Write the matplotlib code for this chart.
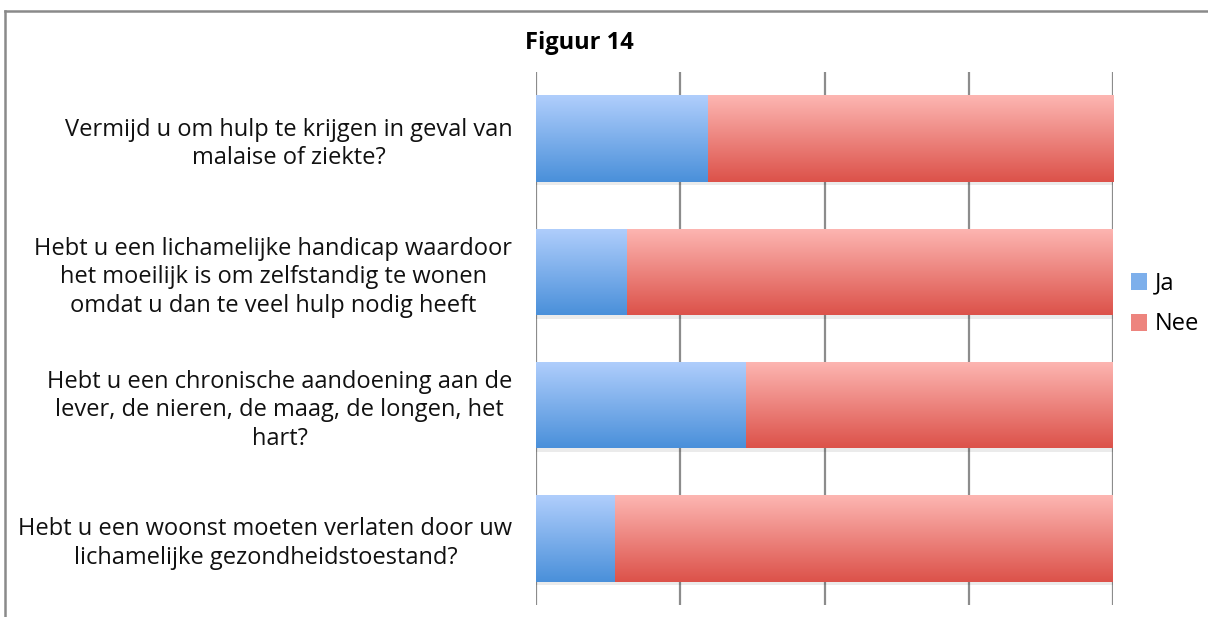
import numpy as np
import matplotlib
matplotlib.use("Agg")
import matplotlib.pyplot as plt
from matplotlib.patches import Patch
from matplotlib.lines import Line2D

categories = [
    "Vermijd u om hulp te krijgen in geval van\nmalaise of ziekte?",
    "Hebt u een lichamelijke handicap waardoor\nhet moeilijk is om zelfstandig te wonen\nomdat u dan te veel hulp nodig heeft",
    "Hebt u een chronische aandoening aan de\nlever, de nieren, de maag, de longen, het\nhart?",
    "Hebt u een woonst moeten verlaten door uw\nlichamelijke gezondheidstoestand?",
]
ja = [29.8, 15.8, 36.4, 13.7]
nee = [70.2, 84.2, 63.6, 86.3]
series = ["Ja", "Nee"]
title = "Figuur 14"

blue_top, blue_bot = np.array([176, 206, 252]) / 255, np.array([74, 144, 218]) / 255
red_top, red_bot = np.array([253, 182, 178]) / 255, np.array([220, 82, 74]) / 255

plt.rcParams['font.family'] = ['Open Sans', 'DejaVu Sans']

fig = plt.figure(figsize=(12.08, 6.17), dpi=100)
W, H = 1208, 617
ax = fig.add_axes([536 / W, 1 - 605 / H, (1113 - 536) / W, (605 - 72) / H])

y = np.arange(len(categories))
h = 0.65

ax.set_xlim(0, 100)
ax.set_ylim(len(categories) - 0.5, -0.5)

# shadows
ax.barh(y + 0.025, ja, height=h, left=0, color='#000000', alpha=0.08, zorder=2, linewidth=0)
ax.barh(y + 0.025, nee, height=h, left=ja, color='#000000', alpha=0.08, zorder=2, linewidth=0)

bars_ja = ax.barh(y, ja, height=h, left=0, color='none', linewidth=0, zorder=3)
bars_nee = ax.barh(y, nee, height=h, left=ja, color='none', linewidth=0, zorder=3)

def grad(top, bot, n=100):
    t = np.linspace(0, 1, n)[:, None]
    arr = top[None, :] * (1 - t) + bot[None, :] * t
    return arr[:, None, :]

for bars, ct, cb in [(bars_ja, blue_top, blue_bot), (bars_nee, red_top, red_bot)]:
    for r in bars:
        x0, yb = r.get_x(), r.get_y()
        w, hh = r.get_width(), r.get_height()
        im = ax.imshow(grad(ct, cb), extent=(x0, x0 + w, yb + hh, yb), origin='upper',
                       aspect='auto', zorder=3.5, interpolation='bilinear')
        im.set_clip_path(r)

ax.set_xlim(0, 100)
ax.set_ylim(len(categories) - 0.5, -0.5)

ax.set_xticks([0, 25, 50, 75, 100])
ax.set_xticklabels([])
ax.tick_params(axis='x', length=0)
ax.grid(axis='x', color='#8c8c8c', linewidth=1.6, zorder=1)
ax.set_axisbelow(True)
ax.set_yticks(y)
ax.set_yticklabels(categories, fontsize=17, multialignment='center', color='#111111',
                   linespacing=1.25)
ax.tick_params(axis='y', length=0, pad=17)
for s in ax.spines.values():
    s.set_visible(False)
ax.set_facecolor('none')

fig.text(579 / W, 1 - 43 / H, title, ha='center', va='center', fontsize=17, fontweight='bold')

handles = [Patch(facecolor=(blue_top + blue_bot) / 2, edgecolor='none'),
           Patch(facecolor=(red_top + red_bot) / 2, edgecolor='none')]
fig.legend(handles, series, loc='center left', bbox_to_anchor=(1119 / W, 1 - 304 / H),
           frameon=False, fontsize=17, handlelength=0.7, handleheight=0.7,
           handletextpad=0.3, labelspacing=0.72, borderpad=0)

# chart border (top and left visible)
fig.add_artist(Line2D([5 / W, 1], [1 - 11 / H, 1 - 11 / H], transform=fig.transFigure,
                      color='#8a8a8a', linewidth=1.8))
fig.add_artist(Line2D([5 / W, 5 / W], [1 - 11 / H, 0], transform=fig.transFigure,
                      color='#8a8a8a', linewidth=1.8))

fig.savefig("out.png", dpi=100)
